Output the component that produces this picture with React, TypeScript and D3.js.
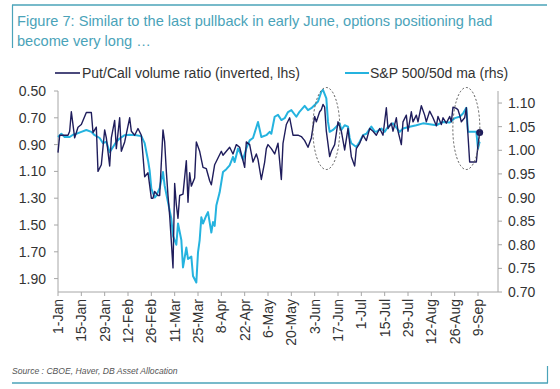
import React from "react";
import * as d3 from "d3";

const titleLines = [
  "Figure 7: Similar to the last pullback in early June, options positioning had",
  "become very long …",
];
const sourceText = "Source : CBOE, Haver, DB Asset Allocation";
const legendPcr = "Put/Call volume ratio (inverted, lhs)";
const legendSpx = "S&P 500/50d ma (rhs)";

const xTickLabels = [
  "1-Jan", "15-Jan", "29-Jan", "12-Feb", "26-Feb", "11-Mar", "25-Mar", "8-Apr", "22-Apr",
  "6-May", "20-May", "3-Jun", "17-Jun", "1-Jul", "15-Jul", "29-Jul", "12-Aug", "26-Aug", "9-Sep",
];
const leftTicks = [0.5, 0.7, 0.9, 1.1, 1.3, 1.5, 1.7, 1.9];
const rightTicks = [0.7, 0.75, 0.8, 0.85, 0.9, 0.95, 1.0, 1.05, 1.1];

// Put/Call volume ratio (inverted, lhs)
const pcrDates = [
  "01-01","01-02","01-07","01-08","01-09","01-11","01-13","01-15","01-18","01-21","01-22","01-24",
  "01-25","01-27","01-29","01-30","02-01","02-02","02-04","02-05","02-07","02-08","02-10","02-13",
  "02-14","02-16","02-18","02-20","02-22","02-24","02-26","02-27","02-28","03-01","03-02","03-04",
  "03-05","03-06","03-07","03-08","03-10","03-11","03-12","03-13","03-14","03-16","03-18","03-19",
  "03-20","03-21","03-23","03-24","03-26","03-28","03-30","04-01","04-02","04-04","04-06","04-08",
  "04-09","04-11","04-13","04-15","04-17","04-19","04-22","04-23","04-25","04-27","04-29","04-30",
  "05-02","05-04","05-05","05-06","05-08","05-10","05-12","05-14","05-15","05-17","05-19","05-21",
  "05-24","05-26","05-28","05-30","06-01","06-03","06-04","06-06","06-07","06-08","06-09","06-10",
  "06-12","06-13","06-15","06-17","06-19","06-21","06-23","06-25","06-27","06-28","06-30","07-02",
  "07-04","07-06","07-08","07-10","07-12","07-14","07-16","07-17","07-19","07-20","07-22","07-23",
  "07-25","07-26","07-28","07-29","07-31","08-01","08-03","08-04","08-06","08-08","08-09","08-11",
  "08-13","08-15","08-16","08-18","08-19","08-21","08-23","08-24","08-25","08-27","08-28","08-29",
  "08-30","09-01","09-02","09-03","09-04","09-08","09-09","09-10",
];
const pcrValues = [
  0.96,0.83,0.83,0.80,0.655,0.85,0.77,0.75,0.66,0.66,0.81,0.77,
  1.10,1.05,0.79,0.85,1.06,0.85,0.72,0.93,0.70,0.95,0.88,0.70,
  0.80,0.83,0.78,0.83,1.14,1.11,1.30,1.30,1.25,1.28,1.28,0.79,
  0.88,1.10,1.28,1.43,1.82,1.19,1.35,1.45,1.28,1.27,1.02,1.33,
  1.11,1.21,1.15,0.88,0.95,1.07,1.08,1.17,1.20,1.05,1.00,0.95,
  0.98,0.95,0.92,0.97,0.90,0.92,1.07,0.88,0.90,1.03,0.97,1.01,
  1.16,1.03,0.93,0.90,0.93,0.97,0.89,1.16,0.89,0.75,0.70,0.83,
  0.83,0.84,0.87,0.92,0.85,0.69,0.73,0.655,0.64,0.60,0.62,0.80,
  0.99,0.95,0.90,0.73,0.80,0.94,0.78,0.99,1.06,0.93,0.89,0.83,
  0.87,0.78,0.80,0.83,0.78,0.83,0.625,0.78,0.74,0.80,0.70,0.80,
  0.90,0.73,0.68,0.80,0.655,0.73,0.68,0.73,0.61,0.68,0.73,0.65,
  0.70,0.76,0.69,0.75,0.70,0.74,0.69,0.73,0.62,0.63,0.64,0.68,
  0.73,0.70,0.625,0.83,1.03,1.03,0.90,0.81,
];

// S&P 500 / 50d moving average (rhs)
const spxDates = [
  "01-01","01-03","01-05","01-08","01-10","01-12","01-15","01-18","01-21","01-23","01-26","01-28",
  "01-30","02-01","02-03","02-05","02-07","02-10","02-13","02-17","02-20","02-22","02-24","02-25",
  "02-26","02-28","02-29","03-02","03-04","03-05","03-07","03-09","03-10","03-12","03-13","03-15",
  "03-16","03-18","03-19","03-21","03-22","03-24","03-25","03-26","03-27","03-28","03-30","03-31",
  "04-02","04-03","04-04","04-05","04-07","04-09","04-11","04-13","04-15","04-16","04-18","04-19",
  "04-21","04-23","04-25","04-27","04-30","05-02","05-05","05-07","05-08","05-10","05-12","05-14",
  "05-16","05-18","05-20","05-23","05-25","05-28","05-30","06-01","06-03","06-05","06-07","06-08",
  "06-10","06-11","06-12","06-14","06-16","06-18","06-19","06-21","06-23","06-24","06-25","06-28",
  "06-30","07-02","07-04","07-07","07-09","07-10","07-13","07-15","07-17","07-20","07-24","07-26",
  "07-30","08-03","08-07","08-11","08-15","08-19","08-23","08-26","08-29","08-31","09-02","09-03",
  "09-05","09-08","09-09","09-10",
];
const spxValues = [
  1.028,1.035,1.028,1.028,1.033,1.035,1.039,1.043,1.039,1.032,1.026,1.015,
  1.018,0.996,1.007,1.018,1.025,1.032,1.033,1.032,1.030,1.015,0.979,0.957,
  0.919,0.900,0.904,0.920,0.954,0.925,0.890,0.855,0.819,0.800,0.845,0.810,
  0.752,0.794,0.770,0.775,0.734,0.720,0.784,0.810,0.858,0.845,0.862,0.869,
  0.826,0.848,0.840,0.883,0.911,0.954,0.960,0.968,0.986,0.975,1.004,0.997,
  0.980,1.004,1.021,1.026,1.060,1.028,1.032,1.039,1.035,1.071,1.075,1.064,
  1.068,1.081,1.085,1.071,1.082,1.094,1.085,1.089,1.096,1.103,1.124,1.128,
  1.110,1.060,1.039,1.043,1.050,1.057,1.043,1.053,1.050,1.026,1.015,1.007,
  1.018,1.032,1.035,1.050,1.040,1.039,1.046,1.039,1.050,1.057,1.039,1.046,
  1.050,1.053,1.057,1.055,1.053,1.060,1.059,1.068,1.071,1.078,1.090,1.039,
  1.039,1.039,1.004,1.018,
];

// highlighted regions (dashed ellipses), as date centres
const highlightDates = ["06-10", "09-02"];

const W = 560;
const H = 389;
const teal = "#4aa3b9";
const navy = "#1f1d5c";
const cyan = "#25b3df";
const axisGrey = "#a6a6a6";
const textCol = "#333333";
const font = "'Liberation Sans', Arial, sans-serif";

const parse = (s: string) => d3.timeParse("%Y-%m-%d")("2020-" + s) as Date;

export default function App() {
  const x0 = 58, x1 = 498, yTop = 91, yBot = 292;
  const x = d3.scaleTime()
    .domain([parse("01-01"), parse("09-21")])
    .range([x0, x1]);
  const yL = d3.scaleLinear().domain([0.5, 2.0]).range([yTop, yBot]);
  const yR = d3.scaleLinear().domain([0.7, 1.1255]).range([yBot, yTop]);

  const pcr = pcrDates.map((d, i) => ({ d: parse(d), v: pcrValues[i] }));
  const spx = spxDates.map((d, i) => ({ d: parse(d), v: spxValues[i] }));

  const linePcr = d3.line<{ d: Date; v: number }>().x((p) => x(p.d)).y((p) => yL(p.v));
  const lineSpx = d3.line<{ d: Date; v: number }>().x((p) => x(p.d)).y((p) => yR(p.v));

  const xTicks = d3.timeDay.every(14)!;
  const tickDates = xTickLabels.map((_, i) => d3.timeDay.offset(parse("01-01"), i * 14));
  const fmt = d3.timeFormat("%-d-%b");
  const last = pcr[pcr.length - 1];

  return (
    <svg width={W} height={H} style={{ position: "absolute", left: 0, top: 0, background: "#fff" }} fontFamily={font}>
      {/* frame */}
      <line x1={12} x2={547} y1={5} y2={5} stroke={teal} strokeWidth={1.5} />
      <line x1={12.5} x2={12.5} y1={5} y2={48} stroke={teal} strokeWidth={1.2} />
      <line x1={12} x2={548} y1={383} y2={383} stroke={teal} strokeWidth={1.5} />
      <line x1={547.5} x2={547.5} y1={366} y2={383} stroke={teal} strokeWidth={1.2} />
      {titleLines.map((t, i) => (
        <text key={i} x={17} y={26 + i * 20} fill={teal} fontSize={14.6}>{t}</text>
      ))}

      {/* legend */}
      <line x1={55} x2={80} y1={73} y2={73} stroke={navy} strokeWidth={1.6} />
      <text x={82} y={78} fontSize={14} fill={textCol}>{legendPcr}</text>
      <line x1={345} x2={369} y1={73} y2={73} stroke={cyan} strokeWidth={2} />
      <text x={370} y={78} fontSize={14} fill={textCol}>{legendSpx}</text>

      {/* left axis */}
      <line x1={x0} x2={x0} y1={yTop} y2={yBot} stroke={axisGrey} />
      {leftTicks.map((t) => (
        <g key={t}>
          <line x1={x0 - 4} x2={x0} y1={yL(t)} y2={yL(t)} stroke={axisGrey} />
          <text x={46} y={yL(t) + 5} textAnchor="end" fontSize={14} fill={textCol}>{t.toFixed(2)}</text>
        </g>
      ))}

      {/* right axis */}
      <line x1={x1} x2={x1} y1={yTop} y2={yBot} stroke={axisGrey} />
      {rightTicks.map((t) => (
        <g key={t}>
          <line x1={x1} x2={x1 + 4} y1={yR(t)} y2={yR(t)} stroke={axisGrey} />
          <text x={508} y={yR(t) + 5} fontSize={14} fill={textCol}>{t.toFixed(2)}</text>
        </g>
      ))}

      {/* x axis */}
      <line x1={x0} x2={x1} y1={yBot} y2={yBot} stroke={axisGrey} />
      {tickDates.map((d, i) => (
        <g key={i}>
          <line x1={x(d)} x2={x(d)} y1={yBot} y2={yBot + 4} stroke={axisGrey} />
          <text
            transform={`translate(${x(d) + 5},${yBot + 7}) rotate(-90)`}
            textAnchor="end"
            fontSize={14}
            fill={textCol}
          >
            {xTickLabels[i] || fmt(d)}
          </text>
        </g>
      ))}

      {/* series */}
      <path d={lineSpx(spx) || ""} fill="none" stroke={cyan} strokeWidth={2} strokeLinejoin="round" />
      <path d={linePcr(pcr) || ""} fill="none" stroke={navy} strokeWidth={1.4} strokeLinejoin="round" />
      <circle cx={x(last.d)} cy={yL(last.v)} r={3.5} fill={navy} />

      {/* dashed ellipses */}
      {highlightDates.map((d) => (
        <ellipse key={d} cx={x(parse(d))} cy={yL(0.78)} rx={13.5} ry={41} fill="none"
          stroke="#555" strokeWidth={1} strokeDasharray="2,2" />
      ))}

      <text x={12} y={374} fontSize={8.6} fontStyle="italic" fill="#555">{sourceText}</text>
    </svg>
  );
}
